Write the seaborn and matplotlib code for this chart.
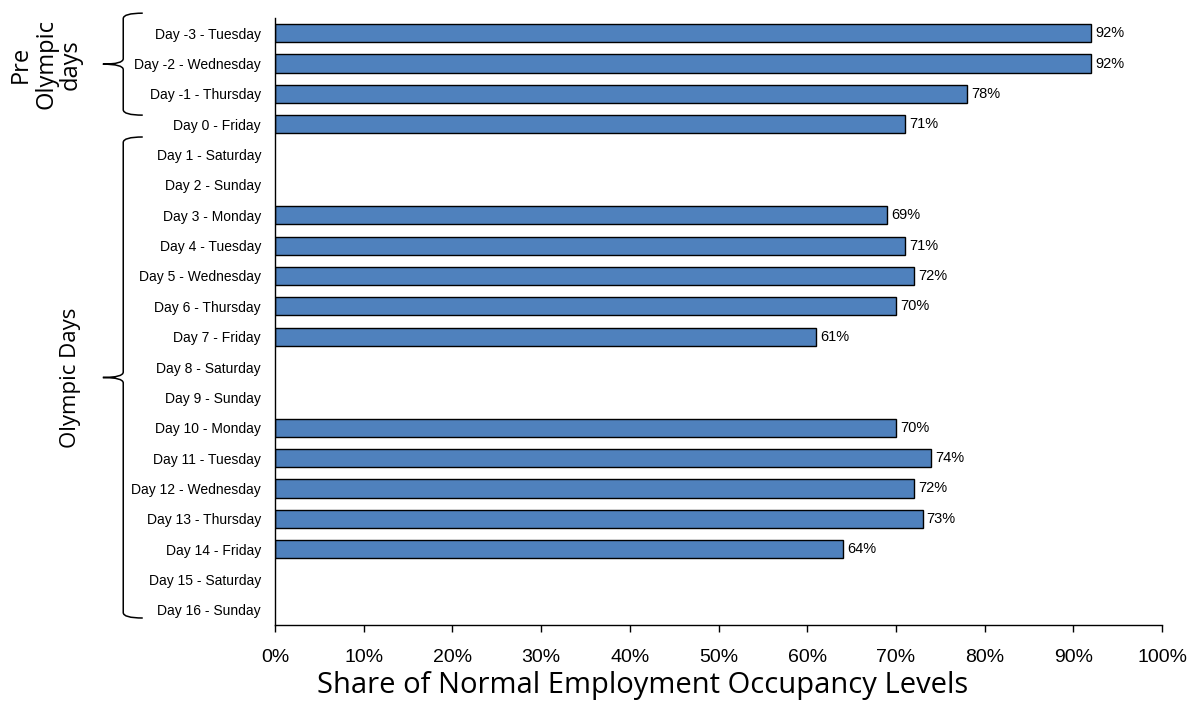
import numpy as np
import pandas as pd
import matplotlib
matplotlib.use("Agg")
import matplotlib.pyplot as plt
from matplotlib.path import Path
from matplotlib.patches import PathPatch
import matplotlib.transforms as mtransforms
import seaborn as sns

sns.set_theme(style="white")
plt.rcParams['font.family'] = ['Liberation Sans', 'DejaVu Sans']
plt.rcParams.update({'text.color': 'black', 'axes.labelcolor': 'black',
                     'xtick.color': 'black', 'ytick.color': 'black'})

categories = ["Day -3 - Tuesday", "Day -2 - Wednesday", "Day -1 - Thursday", "Day 0 - Friday",
              "Day 1 - Saturday", "Day 2 - Sunday", "Day 3 - Monday", "Day 4 - Tuesday",
              "Day 5 - Wednesday", "Day 6 - Thursday", "Day 7 - Friday", "Day 8 - Saturday",
              "Day 9 - Sunday", "Day 10 - Monday", "Day 11 - Tuesday", "Day 12 - Wednesday",
              "Day 13 - Thursday", "Day 14 - Friday", "Day 15 - Saturday", "Day 16 - Sunday"]
values = [92, 92, 78, 71, np.nan, np.nan, 69, 71, 72, 70, 61, np.nan, np.nan,
          70, 74, 72, 73, 64, np.nan, np.nan]
xticks = [0, 10, 20, 30, 40, 50, 60, 70, 80, 90, 100]
xtick_labels = [f"{t}%" for t in xticks]
groups = [("Pre\nOlympic\ndays", 0, 2), ("Olympic Days", 4, 19)]

df = pd.DataFrame({"day": categories, "share": values})

fig = plt.figure(figsize=(11.98, 7.07), dpi=100)
ax = fig.add_axes([0.2295, 0.116, 0.7405, 0.8585])

sns.barplot(data=df.dropna(), x="share", y="day", order=categories, orient="h",
            color="#4F81BD", saturation=1, width=0.6, edgecolor="black", linewidth=1, ax=ax)

for cont in ax.containers:
    ax.bar_label(cont, labels=[f"{v:.0f}%" for v in cont.datavalues], padding=3, fontsize=10.5)

ax.set_xlim(0, 100)
ax.set_ylim(len(categories) - 0.5, -0.5)
ax.set_xticks(xticks)
ax.set_xticklabels(xtick_labels, fontsize=14)
ax.tick_params(axis='x', length=5, width=1, color='black', direction='out', pad=12, bottom=True)
ax.tick_params(axis='y', length=0, labelsize=10, pad=10)
ax.set_ylabel("")
ax.set_xlabel("Share of Normal Employment Occupancy Levels", fontsize=21,
              family=['Open Sans', 'DejaVu Sans'], labelpad=4)
ax.xaxis.set_label_coords(0.414, -0.075)
for s in ['top', 'right']:
    ax.spines[s].set_visible(False)
for s in ['left', 'bottom']:
    ax.spines[s].set_color('black')
    ax.spines[s].set_linewidth(1)

# braces
trans = mtransforms.blended_transform_factory(ax.transAxes, ax.transData)
x_end, x_v, x_tip = -0.149, -0.171, -0.194
def brace(y0, y1):
    ym = (y0 + y1) / 2
    r = 0.18
    verts = [(x_end, y0), (x_v, y0), (x_v, y0 + r),
             (x_v, ym - r),
             (x_v, ym), (x_tip, ym),
             (x_v, ym), (x_v, ym + r),
             (x_v, y1 - r),
             (x_v, y1), (x_end, y1)]
    codes = [Path.MOVETO, Path.CURVE3, Path.CURVE3, Path.LINETO,
             Path.CURVE3, Path.CURVE3, Path.CURVE3, Path.CURVE3,
             Path.LINETO, Path.CURVE3, Path.CURVE3]
    p = PathPatch(Path(verts, codes), transform=trans, fill=False, lw=1.1,
                  edgecolor='black', clip_on=False)
    ax.add_patch(p)
    return ym

ym1 = brace(-0.66, 2.7)
ax.text(-0.258, ym1, groups[0][0], transform=trans, rotation=90, ha='center', va='center',
        fontsize=17, family=['Open Sans', 'DejaVu Sans'], linespacing=1.05)
ym2 = brace(3.42, 19.27)
ax.text(-0.231, ym2, groups[1][0], transform=trans, rotation=90, ha='center', va='center',
        fontsize=16, family=['Open Sans', 'DejaVu Sans'])

fig.savefig("out.png", dpi=100)
